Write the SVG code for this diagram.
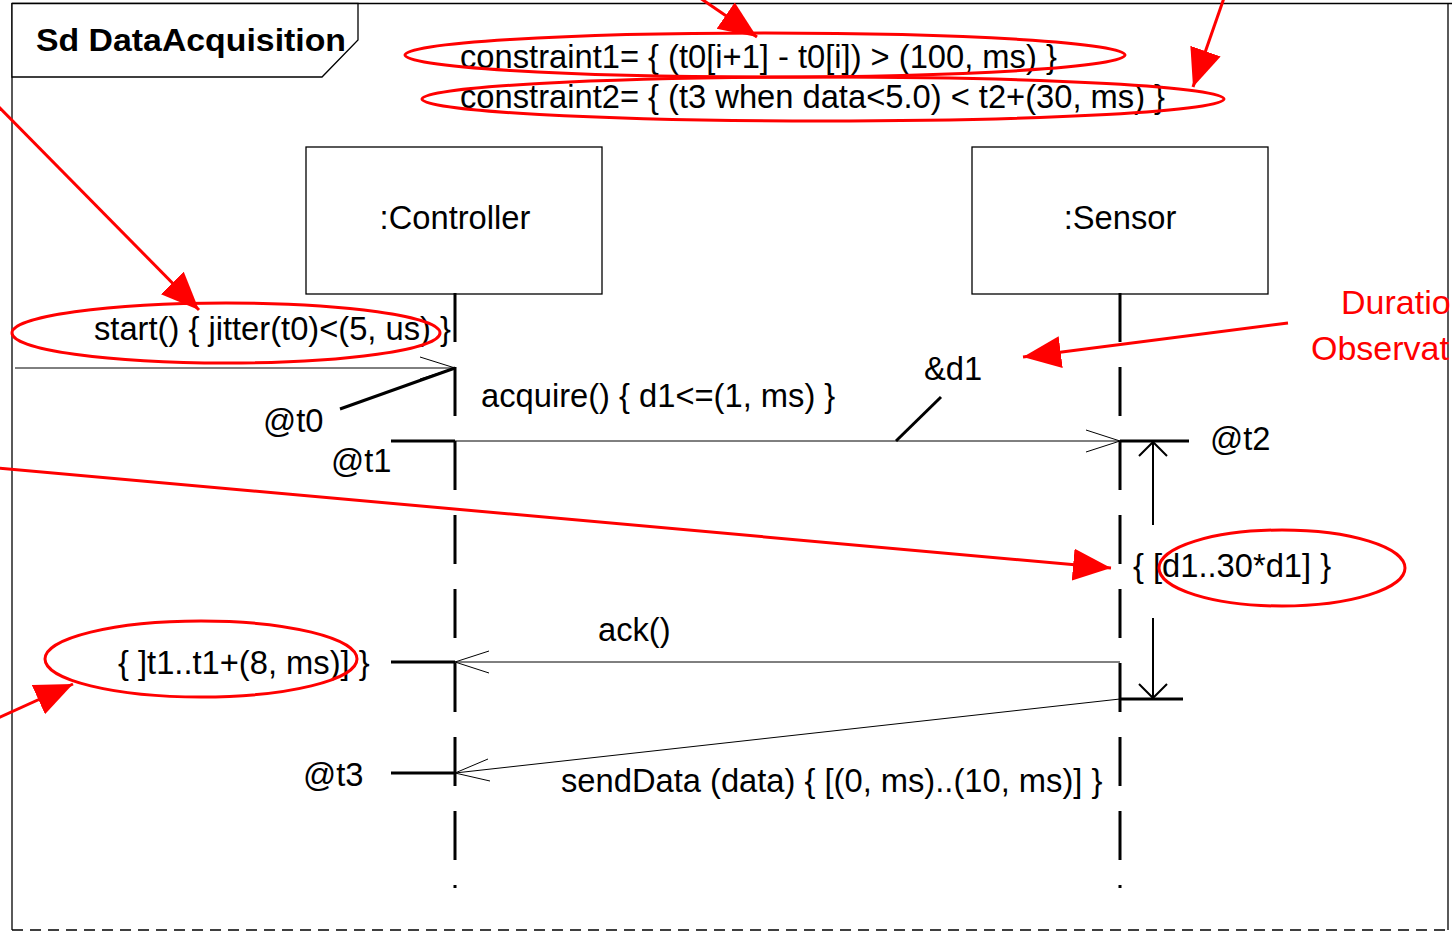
<svg xmlns="http://www.w3.org/2000/svg" width="1455" height="932" viewBox="0 0 1455 932">
<style>
text{font-family:"Liberation Sans",Arial,sans-serif;font-size:32.7px;fill:#000}
.title{font-weight:bold;font-size:31px}
.red{fill:#ff0000;font-size:34px}
.box{fill:#fff;stroke:#000;stroke-width:1.3}
.life{stroke:#000;stroke-width:3;stroke-dasharray:49 25;fill:none}
.msg{stroke:#000;stroke-width:1;fill:none}
.tick{stroke:#000;stroke-width:3;fill:none}
.dur{stroke:#000;stroke-width:2;fill:none}
.ann{stroke:#ff0000;stroke-width:3;fill:none}
.ell{stroke:#ff0000;stroke-width:3;fill:none}
</style>
<defs>
<marker id="rh" markerUnits="userSpaceOnUse" markerWidth="42" markerHeight="34" refX="38" refY="16" orient="auto">
<path d="M0,0 L38,16 L0,32 z" fill="#ff0000"/>
</marker>
</defs>
<rect width="1455" height="932" fill="#fff"/>
<g id="frame">
<line x1="12" y1="3.5" x2="1452" y2="3.5" stroke="#000" stroke-width="1.3"/>
<line x1="12" y1="3" x2="12" y2="930" stroke="#000" stroke-width="1.3"/>
<line x1="1448" y1="3" x2="1448" y2="930" stroke="#000" stroke-width="1.3"/>
<line x1="12" y1="930" x2="1452" y2="930" stroke="#000" stroke-width="1.5" stroke-dasharray="11 7"/>
<polygon points="12,3.5 358,3.5 358,40 322,77 12,77" fill="#fff" stroke="#000" stroke-width="1.3"/>
<text class="title" x="36" y="51" textLength="310" lengthAdjust="spacingAndGlyphs">Sd DataAcquisition</text>
</g>
<g id="constraints">
<text x="460" y="68">constraint1= { (t0[i+1] - t0[i]) &gt; (100, ms) }</text>
<text x="460" y="108">constraint2= { (t3 when data&lt;5.0) &lt; t2+(30, ms) }</text>
</g>
<g id="controller">
<rect class="box" x="306" y="147" width="296" height="147"/>
<text x="455" y="229" text-anchor="middle">:Controller</text>
<line class="life" x1="455" y1="293" x2="455" y2="888"/>
</g>
<g id="sensor">
<rect class="box" x="972" y="147" width="296" height="147"/>
<text x="1120" y="229" text-anchor="middle">:Sensor</text>
<line class="life" x1="1120" y1="293" x2="1120" y2="888"/>
</g>
<g id="connectors">
<g id="msg-start">
<line class="msg" x1="15" y1="368" x2="455" y2="368"/>
<path class="msg" d="M420,357 L455,368 L420,379"/>
<text x="94" y="340">start() { jitter(t0)&lt;(5, us) }</text>
<line class="tick" x1="340" y1="409" x2="455" y2="368"/>
<text x="263" y="432">@t0</text>
</g>
<g id="msg-acquire">
<line class="msg" x1="455" y1="441" x2="1120" y2="441"/>
<path class="msg" d="M1086,430 L1120,441 L1086,452"/>
<text x="481" y="407">acquire() { d1&lt;=(1, ms) }</text>
<line class="tick" x1="391" y1="441" x2="455" y2="441"/>
<text x="331" y="472">@t1</text>
<line class="tick" x1="1120" y1="441" x2="1189" y2="441"/>
<text x="1210" y="450">@t2</text>
<line class="tick" x1="896" y1="441" x2="941" y2="397"/>
<text x="924" y="380">&amp;d1</text>
</g>
<g id="duration">
<line class="dur" x1="1153" y1="442" x2="1153" y2="525"/>
<path class="dur" d="M1139,456 L1153,442 L1167,456"/>
<line class="dur" x1="1153" y1="618" x2="1153" y2="698"/>
<path class="dur" d="M1139,684 L1153,698 L1167,684"/>
<line class="tick" x1="1120" y1="699" x2="1183" y2="699"/>
<text x="1133" y="577">{ [d1..30*d1] }</text>
</g>
<g id="msg-ack">
<line class="msg" x1="1120" y1="662" x2="455" y2="662"/>
<path class="msg" d="M489,651 L455,662 L489,673"/>
<text x="598" y="641">ack()</text>
<line class="tick" x1="391" y1="662" x2="455" y2="662"/>
<text x="118" y="674">{ ]t1..t1+(8, ms)] }</text>
</g>
<g id="msg-send">
<line class="msg" x1="1120" y1="699" x2="455" y2="773"/>
<path class="msg" d="M488,759 L455,773 L490,781"/>
<text x="561" y="792">sendData (data) { [(0, ms)..(10, ms)] }</text>
<line class="tick" x1="391" y1="773" x2="455" y2="773"/>
<text x="303" y="786">@t3</text>
</g>
</g>
<g id="annotations">
<ellipse class="ell" cx="765" cy="55" rx="360" ry="22"/>
<ellipse class="ell" cx="823" cy="99" rx="401" ry="22"/>
<ellipse class="ell" cx="226" cy="333" rx="214" ry="30"/>
<ellipse class="ell" cx="1282" cy="568" rx="123" ry="38"/>
<ellipse class="ell" cx="201" cy="659" rx="156" ry="38"/>
<line class="ann" x1="700" y1="-2" x2="757" y2="37" marker-end="url(#rh)"/>
<line class="ann" x1="1224" y1="-2" x2="1193" y2="87" marker-end="url(#rh)"/>
<line class="ann" x1="-2" y1="106" x2="199" y2="310" marker-end="url(#rh)"/>
<line class="ann" x1="1288" y1="323" x2="1023" y2="357" marker-end="url(#rh)"/>
<line class="ann" x1="-2" y1="468" x2="1111" y2="568" marker-end="url(#rh)"/>
<line class="ann" x1="-2" y1="718" x2="73" y2="684" marker-end="url(#rh)"/>
<text class="red" x="1341" y="314">Duratio</text>
<text class="red" x="1311" y="360">Observat</text>
</g>
</svg>
